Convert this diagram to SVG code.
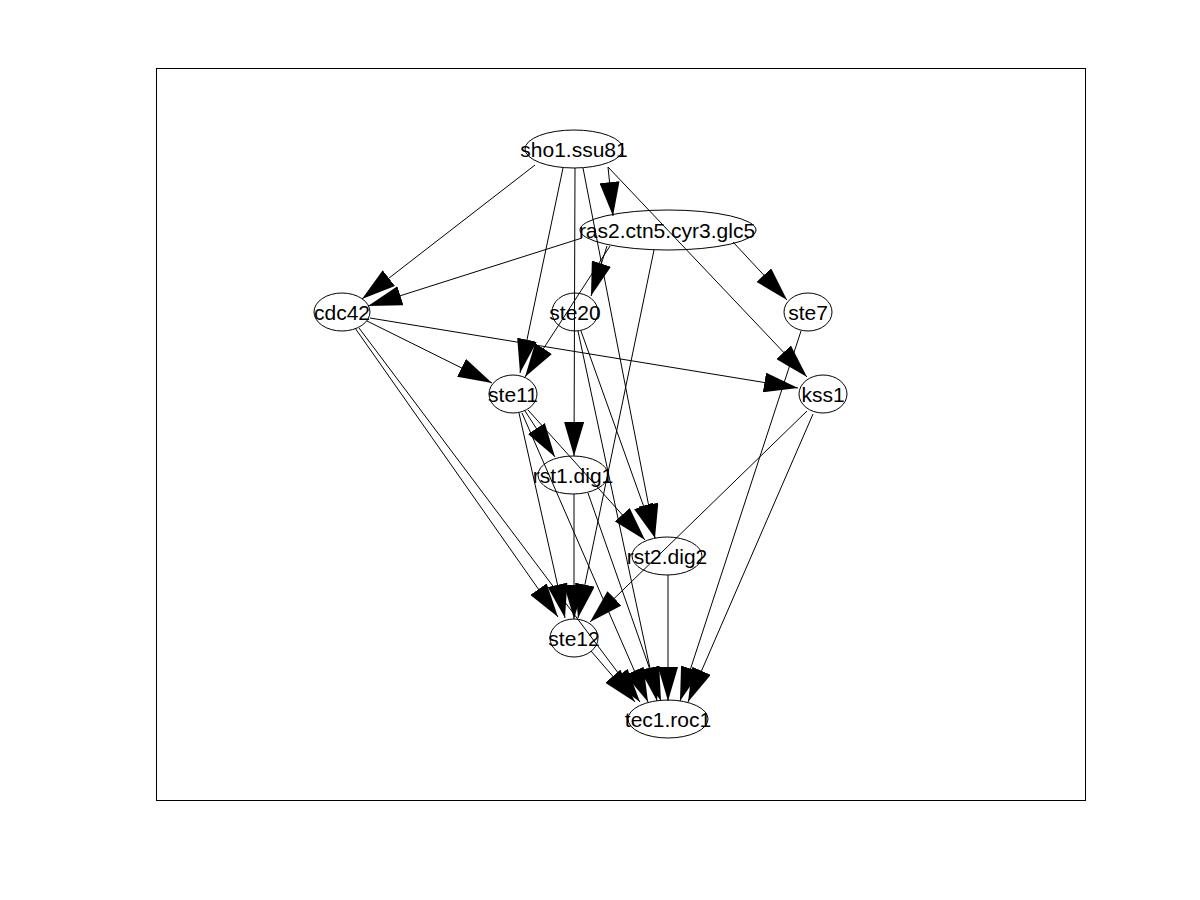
<svg xmlns="http://www.w3.org/2000/svg" width="1200" height="900" viewBox="0 0 1200 900">
  <style>
    .edge { stroke: #000; stroke-width: 1; fill: none; marker-end: url(#arrow); }
    .node ellipse { fill: none; stroke: #000; stroke-width: 1; }
    .node text { font-family: "Liberation Sans", Arial, sans-serif; font-size: 21px; fill: #000; text-anchor: middle; }
  </style>
  <defs>
    <marker id="arrow" viewBox="0 0 34 20" refX="34" refY="10" markerWidth="34" markerHeight="20" markerUnits="userSpaceOnUse" orient="auto">
      <path d="M0,0 L34,10 L0,20 Z" fill="#000"/>
    </marker>
  </defs>
  <rect width="1200" height="900" fill="#fff"/>
  <!-- axes box -->
  <rect x="156.5" y="68.5" width="929" height="732" fill="none" stroke="#000" stroke-width="1"/>

  <g id="connectors">
    <!-- sho1.ssu81 -->
    <line class="edge" x1="535" y1="165" x2="362" y2="299"/>
    <line class="edge" x1="608" y1="167" x2="613" y2="216"/>
    <line class="edge" x1="563" y1="168" x2="520" y2="373"/>
    <line class="edge" x1="575" y1="168" x2="574" y2="456"/>
    <line class="edge" x1="583" y1="168" x2="655" y2="538"/>
    <line class="edge" x1="608" y1="167" x2="807" y2="377"/>
    <!-- ras2.ctn5.cyr3.glc5 -->
    <line class="edge" x1="582" y1="238" x2="368" y2="306"/>
    <line class="edge" x1="607" y1="246" x2="591" y2="296"/>
    <line class="edge" x1="610" y1="246" x2="525" y2="377"/>
    <line class="edge" x1="733" y1="242" x2="787" y2="300"/>
    <line class="edge" x1="654" y1="250" x2="578" y2="618"/>
    <!-- cdc42 -->
    <line class="edge" x1="367" y1="321" x2="492" y2="383"/>
    <line class="edge" x1="370" y1="318" x2="798" y2="388"/>
    <line class="edge" x1="355" y1="328" x2="558" y2="617"/>
    <line class="edge" x1="359" y1="328" x2="640" y2="702"/>
    <!-- ste20 -->
    <line class="edge" x1="581" y1="331" x2="655" y2="538"/>
    <line class="edge" x1="578" y1="331" x2="657" y2="701"/>
    <!-- ste11 -->
    <line class="edge" x1="525" y1="411" x2="555" y2="457"/>
    <line class="edge" x1="528" y1="410" x2="645" y2="540"/>
    <line class="edge" x1="519" y1="413" x2="565" y2="618"/>
    <line class="edge" x1="522" y1="413" x2="648" y2="702"/>
    <!-- rst1.dig1 -->
    <line class="edge" x1="574" y1="494" x2="574" y2="619"/>
    <line class="edge" x1="588" y1="493" x2="661" y2="701"/>
    <!-- rst2.dig2 -->
    <line class="edge" x1="668" y1="575" x2="668" y2="701"/>
    <!-- ste7 -->
    <line class="edge" x1="801" y1="331" x2="680" y2="701"/>
    <!-- kss1 -->
    <line class="edge" x1="807" y1="411" x2="590" y2="622"/>
    <line class="edge" x1="813" y1="414" x2="688" y2="702"/>
    <!-- ste12 -->
    <line class="edge" x1="591" y1="651" x2="635" y2="702"/>
  </g>

  <g id="sho1.ssu81" class="node"><ellipse cx="574" cy="149" rx="49" ry="19"/><text x="574" y="157">sho1.ssu81</text></g>
  <g id="ras2.ctn5.cyr3.glc5" class="node"><ellipse cx="668" cy="230" rx="88" ry="20"/><text x="667" y="238">ras2.ctn5.cyr3.glc5</text></g>
  <g id="cdc42" class="node"><ellipse cx="342" cy="312" rx="28" ry="19"/><text x="342" y="320">cdc42</text></g>
  <g id="ste20" class="node"><ellipse cx="575" cy="312" rx="23" ry="19"/><text x="575" y="320">ste20</text></g>
  <g id="ste7" class="node"><ellipse cx="808" cy="312" rx="24" ry="19"/><text x="808" y="320">ste7</text></g>
  <g id="ste11" class="node"><ellipse cx="513" cy="394" rx="24" ry="19"/><text x="513" y="402">ste11</text></g>
  <g id="kss1" class="node"><ellipse cx="823" cy="394" rx="24" ry="19"/><text x="823" y="402">kss1</text></g>
  <g id="rst1.dig1" class="node"><ellipse cx="573" cy="475" rx="35" ry="19"/><text x="573" y="483">rst1.dig1</text></g>
  <g id="rst2.dig2" class="node"><ellipse cx="667" cy="556" rx="35" ry="19"/><text x="667" y="564">rst2.dig2</text></g>
  <g id="ste12" class="node"><ellipse cx="574" cy="638" rx="24" ry="19"/><text x="574" y="646">ste12</text></g>
  <g id="tec1.roc1" class="node"><ellipse cx="668" cy="719" rx="40" ry="19"/><text x="668" y="727">tec1.roc1</text></g>
</svg>
